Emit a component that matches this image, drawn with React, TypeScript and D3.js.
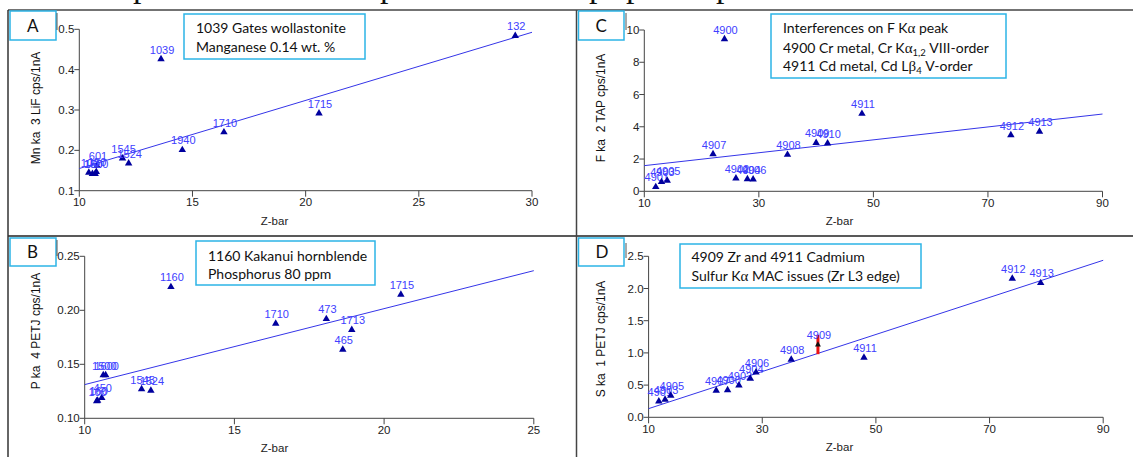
import * as d3 from 'd3'

// A: Mn ka, LiF
const A_LABELS = ['132', '1039', '1715', '1710', '1940', '1545', '1524', '601', '100', '160', '1500', '150']
const A_ZBAR = [29.26, 13.61, 20.59, 16.39, 14.55, 11.91, 12.18, 10.78, 10.42, 10.58, 10.7, 10.75]
const A_CPS = [0.484, 0.426, 0.292, 0.245, 0.201, 0.18, 0.168, 0.162, 0.145, 0.142, 0.142, 0.147]
const A_FIT = [0.155, 0.4926]
const A_XTICKS = [10, 15, 20, 25, 30]
const A_YTICKS = [0.1, 0.2, 0.3, 0.4, 0.5]

// B: P ka, PETJ
const B_LABELS = ['1160', '1715', '1710', '473', '1713', '465', '1545', '1524', '1500', '1600', '450', '100', '160']
const B_ZBAR = [12.88, 20.56, 16.38, 18.07, 18.92, 18.62, 11.9, 12.21, 10.62, 10.7, 10.57, 10.4, 10.43]
const B_CPS = [0.2216, 0.2145, 0.1877, 0.192, 0.182, 0.1636, 0.127, 0.1256, 0.14, 0.14, 0.119, 0.116, 0.1165]
const B_FIT = [0.1312, 0.2367]
const B_XTICKS = [10, 15, 20, 25]
const B_YTICKS = [0.1, 0.15, 0.2, 0.25]

// C: F ka, TAP
const C_LABELS = ['4901', '4903', '4905', '4907', '4900', '4902', '4904', '4906', '4908', '4909', '4910', '4911', '4912', '4913']
const C_ZBAR = [12, 13, 14, 22, 24, 26, 28, 29, 35, 40, 42, 48, 74, 79]
const C_CPS = [0.27, 0.58, 0.66, 2.31, 9.44, 0.8, 0.76, 0.74, 2.27, 3.0, 2.98, 4.81, 3.49, 3.7]
const C_FIT = [1.59, 4.79]
const C_XTICKS = [10, 30, 50, 70, 90]
const C_YTICKS = [0, 2, 4, 6, 8, 10]

// D: S ka, PETJ
const D_LABELS = ['4901', '4903', '4905', '4907', '4900', '4902', '4904', '4906', '4908', '4909', '4911', '4912', '4913']
const D_ZBAR = [11.8, 12.9, 13.9, 21.9, 23.9, 25.9, 27.9, 28.9, 35.1, 39.8, 47.9, 74, 79]
const D_CPS = [0.248, 0.274, 0.336, 0.414, 0.424, 0.497, 0.6, 0.699, 0.895, 1.128, 0.926, 2.153, 2.086]
const D_FIT = [0.1346, 2.438]
const D_XTICKS = [10, 30, 50, 70, 90]
const D_YTICKS = [0, 0.5, 1.0, 1.5, 2.0, 2.5]
const D_ERR_SAMPLE = '4909'
const D_ERR = [0.98, 1.28]

const LEGEND_FONT = 'Lato, "Open Sans", sans-serif'
const AXIS_FONT = '"Liberation Sans", Arial, sans-serif'
const CYAN = '#2cb4e6'
const PT_LABEL = '#4040ff'
const PT_FILL = '#00009e'
const FIT_COLOR = '#3535e8'

type Panel = {
  key: string
  labels: string[]
  z: number[]
  v: number[]
  fit: number[]
  xTicks: number[]
  yTicks: number[]
  yFmt: string
  xRange: [number, number]
  yRange: [number, number]
  yTitle: string
  yTitlePos: [number, number]
  xTitleX: number
  box: [number, number, number, number]
  mark: [number, number, number]
  legend: [number, number, number, number]
  legendX: number
  legendY: number[]
  legendLines: string[]
}

const alpha = (key: string) => (
  <tspan key={key} fontFamily='"Liberation Serif", serif' fontSize={15}>α</tspan>
)

const PANELS: Panel[] = [
  {
    key: 'A', labels: A_LABELS, z: A_ZBAR, v: A_CPS, fit: A_FIT,
    xTicks: A_XTICKS, yTicks: A_YTICKS, yFmt: '.1f',
    xRange: [79.3, 532], yRange: [190.7, 29.3],
    yTitle: 'Mn ka  3 LiF cps/1nA', yTitlePos: [36, 108], xTitleX: 274.5,
    box: [10, 11, 46, 29], mark: [57, 13, 30],
    legend: [184, 14, 181, 45], legendX: 196, legendY: [33, 52],
    legendLines: ['1039 Gates wollastonite', 'Manganese 0.14 wt. %']
  },
  {
    key: 'B', labels: B_LABELS, z: B_ZBAR, v: B_CPS, fit: B_FIT,
    xTicks: B_XTICKS, yTicks: B_YTICKS, yFmt: '.2f',
    xRange: [84.7, 533.8], yRange: [418.3, 256.3],
    yTitle: 'P ka  4 PETJ cps/1nA', yTitlePos: [36, 331], xTitleX: 274.5,
    box: [10, 238, 46, 28], mark: [57, 240, 256],
    legend: [196, 241, 179, 44], legendX: 208, legendY: [261, 279],
    legendLines: ['1160 Kakanui hornblende', 'Phosphorus 80 ppm']
  },
  {
    key: 'C', labels: C_LABELS, z: C_ZBAR, v: C_CPS, fit: C_FIT,
    xTicks: C_XTICKS, yTicks: C_YTICKS, yFmt: 'd',
    xRange: [644.3, 1102.5], yRange: [191.3, 30],
    yTitle: 'F ka  2 TAP cps/1nA', yTitlePos: [601, 108], xTitleX: 839.5,
    box: [578.5, 11, 45.5, 29], mark: [626, 13, 30],
    legend: [771, 14, 235, 64], legendX: 783, legendY: [33, 52.5, 71],
    legendLines: ['Interferences on F Kα peak', '4900 Cr metal, Cr Kα1,2 VIII-order', '4911 Cd metal, Cd Lβ4 V-order']
  },
  {
    key: 'D', labels: D_LABELS, z: D_ZBAR, v: D_CPS, fit: D_FIT,
    xTicks: D_XTICKS, yTicks: D_YTICKS, yFmt: '.1f',
    xRange: [648.6, 1103.2], yRange: [417.3, 256.3],
    yTitle: 'S ka  1 PETJ cps/1nA', yTitlePos: [601, 339], xTitleX: 839.5,
    box: [578.5, 238, 45.5, 28], mark: [626, 243, 258],
    legend: [680, 244, 241, 44], legendX: 691.5, legendY: [262, 281],
    legendLines: ['4909 Zr and 4911 Cadmium', 'Sulfur Kα MAC issues (Zr L3 edge)']
  }
]

// legend lines that need greek letters / subscripts
function legendLine(p: Panel, i: number) {
  if (p.key === 'C' && i === 0) {
    return <>Interferences on F K{alpha('a')} peak</>
  }
  if (p.key === 'C' && i === 1) {
    return (
      <>
        4900 Cr metal, Cr K{alpha('a')}
        <tspan fontSize={9.5} dy={3}>1,2</tspan>
        <tspan dy={-3}> VIII-order</tspan>
      </>
    )
  }
  if (p.key === 'C' && i === 2) {
    return (
      <>
        4911 Cd metal, Cd L<tspan fontFamily='"Liberation Serif", serif' fontSize={15}>β</tspan>
        <tspan fontSize={9.5} dy={3}>4</tspan>
        <tspan dy={-3}> V-order</tspan>
      </>
    )
  }
  if (p.key === 'D' && i === 1) {
    return <>Sulfur K{alpha('a')} MAC issues (Zr L3 edge)</>
  }
  return p.legendLines[i]
}

function ChartPanel({ p }: { p: Panel }) {
  const x = d3.scaleLinear()
    .domain([p.xTicks[0], p.xTicks[p.xTicks.length - 1]])
    .range(p.xRange)
  const y = d3.scaleLinear()
    .domain([p.yTicks[0], p.yTicks[p.yTicks.length - 1]])
    .range(p.yRange)
  const fmt = d3.format(p.yFmt)
  const tri = d3.symbol().type(d3.symbolTriangle).size(24)()
  const [x0, x1] = x.range()
  const [y0, y1] = y.range()
  const [xd0, xd1] = x.domain()

  const errIdx = p.key === 'D' ? p.labels.indexOf(D_ERR_SAMPLE) : -1

  return (
    <g>
      {/* panel letter box */}
      <rect x={p.box[0]} y={p.box[1]} width={p.box[2]} height={p.box[3]} fill="white" stroke={CYAN} strokeWidth={1.5} />
      <text x={p.box[0] + 17} y={p.box[1] + p.box[3] / 2 + 6} fontFamily={LEGEND_FONT} fontSize={17} fill="#111">{p.key}</text>
      <line x1={p.mark[0]} x2={p.mark[0]} y1={p.mark[1]} y2={p.mark[2]} stroke="#555" strokeWidth={1} />

      {/* axes */}
      <line x1={x0} x2={x0} y1={y0} y2={y1} stroke="#444" />
      <line x1={x0} x2={x1} y1={y0} y2={y0} stroke="#444" />
      {p.yTicks.map(t => (
        <g key={`y${t}`}>
          <line x1={x0 - 5} x2={x0} y1={y(t)} y2={y(t)} stroke="#444" />
          <text x={x0 - 5} y={y(t)} dy="0.36em" textAnchor="end" fontFamily={AXIS_FONT} fontSize={11.5} fill="#222">{fmt(t)}</text>
        </g>
      ))}
      {p.xTicks.map(t => (
        <g key={`x${t}`}>
          <line x1={x(t)} x2={x(t)} y1={y0} y2={y0 + 6} stroke="#444" />
          <text x={x(t)} y={y0 + 15.5} textAnchor="middle" fontFamily={AXIS_FONT} fontSize={11.5} fill="#222">{t}</text>
        </g>
      ))}
      <text x={p.xTitleX} y={y0 + 34} textAnchor="middle" fontFamily={AXIS_FONT} fontSize={11.5} fill="#222">Z-bar</text>
      <text
        transform={`translate(${p.yTitlePos[0]},${p.yTitlePos[1]}) rotate(-90)`}
        textAnchor="middle" dy="0.35em" fontFamily={AXIS_FONT} fontSize={12} fill="#111"
        style={{ whiteSpace: 'pre' }}
      >
        {p.yTitle}
      </text>

      {/* fitted line */}
      <line x1={x(xd0)} x2={x(xd1)} y1={y(p.fit[0])} y2={y(p.fit[1])} stroke={FIT_COLOR} strokeWidth={1} />

      {/* error bar */}
      {errIdx >= 0 && (
        <line x1={x(p.z[errIdx])} x2={x(p.z[errIdx])} y1={y(D_ERR[0])} y2={y(D_ERR[1])} stroke="#ee1111" strokeWidth={3} />
      )}

      {/* points */}
      {p.labels.map((lab, i) => (
        <g key={`${lab}-${i}`} transform={`translate(${x(p.z[i])},${y(p.v[i])})`}>
          <path d={tri ?? ''} fill={i === errIdx ? '#111' : PT_FILL} transform={i === errIdx ? 'scale(0.8)' : undefined} />
          <text x={1} y={-5.5} textAnchor="middle" fontFamily={AXIS_FONT} fontSize={11} fill={PT_LABEL}>{lab}</text>
        </g>
      ))}

      {/* legend */}
      <rect x={p.legend[0]} y={p.legend[1]} width={p.legend[2]} height={p.legend[3]} fill="white" stroke={CYAN} strokeWidth={1.5} />
      {p.legendLines.map((_, i) => (
        <text key={i} x={p.legendX} y={p.legendY[i]} fontFamily={LEGEND_FONT} fontSize={14} fill="#111">
          {legendLine(p, i)}
        </text>
      ))}
    </g>
  )
}

// descenders of the heading line cut off above the figure
const HEADING_P_X = [133, 380, 589, 626, 716]

export default function App() {
  return (
    <svg width={1133} height={457} style={{ position: 'absolute', left: 0, top: 0, background: 'white' }}>
      {HEADING_P_X.map((px, i) => (
        <text key={i} x={px} y={-3.5} fontFamily='"Liberation Serif", serif' fontSize={34} fill="#111">p</text>
      ))}
      {/* slide table lines */}
      <line x1={8} x2={1133} y1={10} y2={10} stroke="#444" strokeWidth={1.5} />
      <line x1={8} x2={1133} y1={236} y2={236} stroke="#222" strokeWidth={1.5} />
      <line x1={8} x2={8} y1={10} y2={457} stroke="#333" strokeWidth={1.5} />
      <line x1={576.5} x2={576.5} y1={10} y2={457} stroke="#444" strokeWidth={1.5} />
      {PANELS.map(p => <ChartPanel key={p.key} p={p} />)}
    </svg>
  )
}
